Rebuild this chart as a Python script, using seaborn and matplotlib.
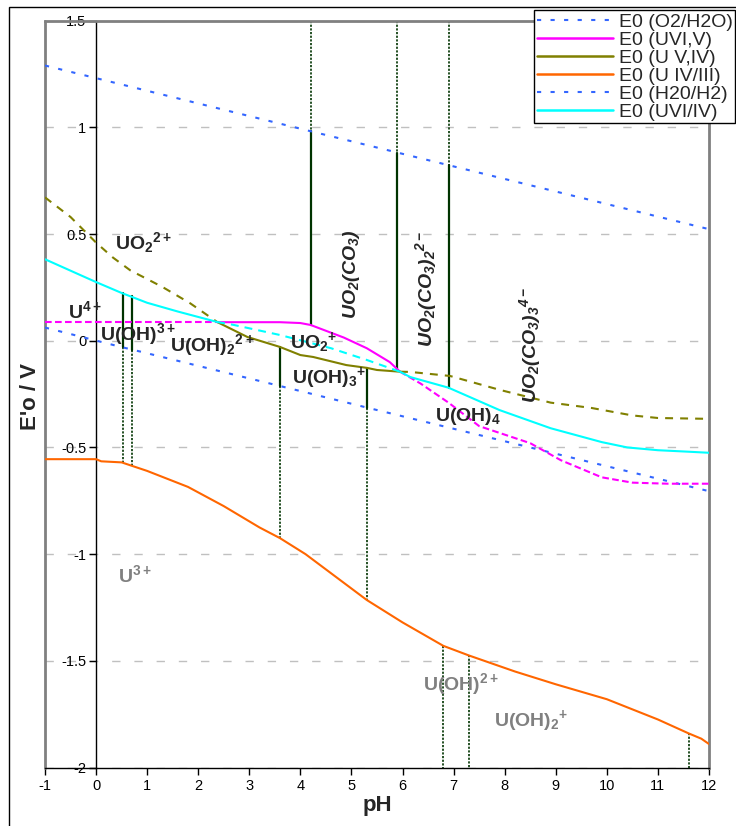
import numpy as np
import pandas as pd
import matplotlib
matplotlib.use("Agg")
import matplotlib.pyplot as plt
import seaborn as sns
from matplotlib.lines import Line2D
from matplotlib.patches import Rectangle

# ---------------- data ----------------
o2_ph = [-1, 4.2, 5.9, 6.9, 12]
o2_e = [1.29, 0.982, 0.882, 0.823, 0.523]

h2_ph = [-1, 0.52, 0.7, 3.6, 5.3, 12]
h2_e = [0.062, -0.031, -0.041, -0.212, -0.313, -0.705]

# U(VI)/U(IV)  cyan
cy1_ph = [-1, -0.3, 0, 0.5, 1, 1.6, 2.37]
cy1_e = [0.382, 0.307, 0.275, 0.224, 0.178, 0.137, 0.088]
cy2_ph = [2.37, 2.7, 3.6, 4.6, 5.3, 5.95]
cy2_e = [0.088, 0.074, 0.027, -0.035, -0.09, -0.145]
cy3_ph = [5.95, 6.15, 6.9, 7.9, 8.9, 9.9, 10.4, 11, 11.6, 12]
cy3_e = [-0.145, -0.17, -0.22, -0.325, -0.41, -0.475, -0.5, -0.513, -0.52, -0.525]

# U(VI)/U(V)  magenta
mg1_ph = [-1, 2.37]
mg1_e = [0.087, 0.087]
mg2_ph = [2.37, 3.6, 4.0, 4.2, 4.85, 5.3, 5.75, 5.95]
mg2_e = [0.087, 0.087, 0.083, 0.074, 0.015, -0.035, -0.1, -0.145]
mg3_ph = [5.95, 6.35, 6.9, 7.5, 8.5, 9.1, 9.9, 10.5, 11.2, 12]
mg3_e = [-0.145, -0.2, -0.29, -0.4, -0.48, -0.56, -0.64, -0.665, -0.67, -0.67]

# U(V)/U(IV)  olive
ol1_ph = [-1, -0.5, 0, 0.33, 0.67, 1.3, 1.84, 2.37]
ol1_e = [0.672, 0.58, 0.46, 0.39, 0.33, 0.252, 0.176, 0.088]
ol2_ph = [2.37, 2.96, 3.6, 4.0, 4.25, 4.9, 5.3, 5.5, 5.95]
ol2_e = [0.088, 0.018, -0.029, -0.067, -0.076, -0.114, -0.127, -0.137, -0.145]
ol3_ph = [5.95, 6.15, 6.93, 7.9, 8.9, 9.7, 10.5, 11, 12]
ol3_e = [-0.145, -0.146, -0.165, -0.23, -0.29, -0.315, -0.35, -0.362, -0.366]

# U(IV)/U(III)  orange
or_ph = [-1, 0, 0.1, 0.5, 1, 1.8, 2.5, 3.2, 3.6, 4.1, 5.3, 6, 6.8, 7.3, 8.2, 9, 10, 11, 11.6, 11.85, 12]
or_e = [-0.555, -0.555, -0.565, -0.57, -0.61, -0.685, -0.775, -0.875, -0.925, -1.0,
        -1.215, -1.32, -1.43, -1.475, -1.55, -1.61, -1.68, -1.775, -1.84, -1.865, -1.89]

# species boundaries (vertical lines): solid part and dotted part
solid_ph = [0.52, 0.7, 3.6, 4.2, 5.3, 5.9, 6.9]
solid_top = [0.224, 0.21, -0.029, 0.982, -0.127, 0.882, 0.823]
solid_bot = [-0.031, -0.041, -0.212, 0.074, -0.313, -0.14, -0.22]
dot_ph = [0.52, 0.7, 3.6, 4.2, 5.3, 5.9, 6.9, 6.8, 7.3, 11.6]
dot_top = [-0.031, -0.041, -0.212, 1.5, -0.313, 1.5, 1.5, -1.43, -1.475, -1.84]
dot_bot = [-0.57, -0.58, -0.925, 0.982, -1.215, 0.882, 0.823, -2.0, -2.0, -2.0]

# species labels
lab_text = ["UO$_2$$^{2+}$", "U$^{4+}$", "U(OH)$^{3+}$", "U(OH)$_2$$^{2+}$", "UO$_2$$^{+}$",
            "U(OH)$_3$$^{+}$", "U(OH)$_4$"]
lab_ph = [0.37, -0.55, 0.08, 1.45, 3.8, 3.84, 6.64]
lab_e = [0.46, 0.14, 0.03, -0.02, -0.01, -0.175, -0.355]

rot_text = ["UO$_2$(CO$_3$)", "UO$_2$(CO$_3$)$_2$$^{2-}$", "UO$_2$(CO$_3$)$_3$$^{4-}$"]
rot_ph = [5.0, 6.46, 8.5]
rot_e = [0.31, 0.245, -0.02]

gray_text = ["U$^{3+}$", "U(OH)$^{2+}$", "U(OH)$_2$$^{+}$"]
gray_ph = [0.43, 6.4, 7.8]
gray_e = [-1.1, -1.61, -1.78]

legend_labels = ["E0 (O2/H2O)", "E0 (UVI,V)", "E0 (U V,IV)", "E0 (U IV/III)", "E0 (H20/H2)", "E0 (UVI/IV)"]

x_ticks = list(range(-1, 13))
y_ticks = [1.5, 1, 0.5, 0, -0.5, -1, -1.5, -2]
y_tick_labels = ["1.5", "1", "0.5", "0", "-0.5", "-1", "-1.5", "-2"]

# ---------------- style ----------------
sns.set_style("white")
plt.rcParams['font.family'] = ['Liberation Sans', 'DejaVu Sans']
plt.rcParams['mathtext.default'] = 'regular'

BLUE = "#3366FF"
MAG = "#FF00FF"
OLIVE = "#808000"
ORANGE = "#FF6600"
CYAN = "#00FFFF"
GREEN = "#003300"
GRAY = "#808080"

blue_ls = (0, (2, 4.5))
mag_ls = (0, (3.2, 1.6))
ol_ls = (0, (3.8, 3.4))
cy_ls = (0, (3.8, 2.9))
dot_ls = (0, (1.3, 0.9))

LABEL_FS = 14

fig = plt.figure(figsize=(7.36, 8.26), dpi=100)
ax = fig.add_axes([45 / 736, 1 - 767.5 / 826, 664 / 736, 746.8 / 826])
ax.set_xlim(-1, 12)
ax.set_ylim(-2, 1.5)

def line(xs, ys, color, ls='-', lw=1.5, z=3):
    sns.lineplot(x=xs, y=ys, ax=ax, color=color, linestyle=ls, linewidth=lw,
                 sort=False, estimator=None, legend=False, zorder=z)

# water lines
line(o2_ph, o2_e, BLUE, blue_ls)
line(h2_ph, h2_e, BLUE, blue_ls)

# boundaries
for p, t, b in zip(solid_ph, solid_top, solid_bot):
    line([p, p], [t, b], GREEN, '-', 1.6, 2)
for p, t, b in zip(dot_ph, dot_top, dot_bot):
    line([p, p], [t, b], GREEN, dot_ls, 1.2, 2)

# uranium couples
line(mg1_ph, mg1_e, MAG, mag_ls)
line(mg2_ph, mg2_e, MAG)
line(mg3_ph, mg3_e, MAG, mag_ls)
line(ol1_ph, ol1_e, OLIVE, ol_ls)
line(ol2_ph, ol2_e, OLIVE)
line(ol3_ph, ol3_e, OLIVE, ol_ls)
line(cy1_ph, cy1_e, CYAN)
line(cy2_ph, cy2_e, CYAN, cy_ls)
line(cy3_ph, cy3_e, CYAN)
line(or_ph, or_e, ORANGE)

# labels
for t, x, y in zip(lab_text, lab_ph, lab_e):
    ax.text(x, y, t, fontsize=LABEL_FS, fontweight='bold', ha='left', va='center', zorder=5)
for t, x, y in zip(rot_text, rot_ph, rot_e):
    ax.text(x, y, t, fontsize=LABEL_FS, fontweight='bold', fontstyle='italic', rotation=90,
            ha='center', va='center', zorder=5)
for t, x, y in zip(gray_text, gray_ph, gray_e):
    ax.text(x, y, t, fontsize=LABEL_FS, fontweight='bold', color=GRAY, ha='left', va='center', zorder=5)

# axes
ax.set_xticks(x_ticks)
ax.set_xticklabels([str(v) for v in x_ticks])
ax.set_yticks(y_ticks)
ax.set_yticklabels(y_tick_labels)
ax.tick_params(axis='both', which='major', labelsize=10.5, direction='out', length=5,
               width=1, color='black', labelcolor='black')
ax.tick_params(axis='x', pad=3)
ax.tick_params(axis='y', pad=2)
ax.tick_params(bottom=True, left=True)
ax.grid(axis='y', color='#c0c0c0', linestyle=(0, (6, 10)), linewidth=1)
ax.set_axisbelow(True)

ax.spines['left'].set_position(('data', 0))
ax.spines['left'].set_color('black')
ax.spines['left'].set_linewidth(1)
ax.spines['bottom'].set_color('black')
ax.spines['bottom'].set_linewidth(1)
for s in ['top', 'right']:
    ax.spines[s].set_color(GRAY)
    ax.spines[s].set_linewidth(2)
ax.plot([0, 0], [0, 1], transform=ax.transAxes, color=GRAY, lw=2, clip_on=False, zorder=1)

ax.set_xlabel("pH", fontsize=16, fontweight='bold')
ax.xaxis.set_label_coords(0.5, -37.5 / 746.8)
ax.xaxis.label.set_verticalalignment('center')
ax.set_ylabel("E'o / V", fontsize=16, fontweight='bold')
ax.yaxis.set_label_coords(-15 / 664, (767.5 - 397) / 746.8)
ax.yaxis.label.set_verticalalignment('center')

# legend
handles = [
    Line2D([], [], color=BLUE, linestyle=blue_ls, lw=1.5),
    Line2D([], [], color=MAG, lw=1.8),
    Line2D([], [], color=OLIVE, lw=1.8),
    Line2D([], [], color=ORANGE, lw=1.8),
    Line2D([], [], color=BLUE, linestyle=blue_ls, lw=1.5),
    Line2D([], [], color=CYAN, lw=1.8),
]
leg = fig.legend(handles, legend_labels, loc='upper left', bbox_to_anchor=(534 / 736, 1 - 10 / 826),
                 fontsize=14, frameon=True, fancybox=False, framealpha=1, edgecolor='black',
                 handlelength=3.9, handletextpad=0.3, labelspacing=0.02, borderpad=0.15,
                 borderaxespad=0)
leg.get_frame().set_linewidth(1)

# outer frame
fig.patches.append(Rectangle((9 / 736, -0.02), 1.0, 1 - 7 / 826 + 0.02, transform=fig.transFigure,
                             fill=False, edgecolor='black', linewidth=1))

fig.savefig("out.png", dpi=100)
